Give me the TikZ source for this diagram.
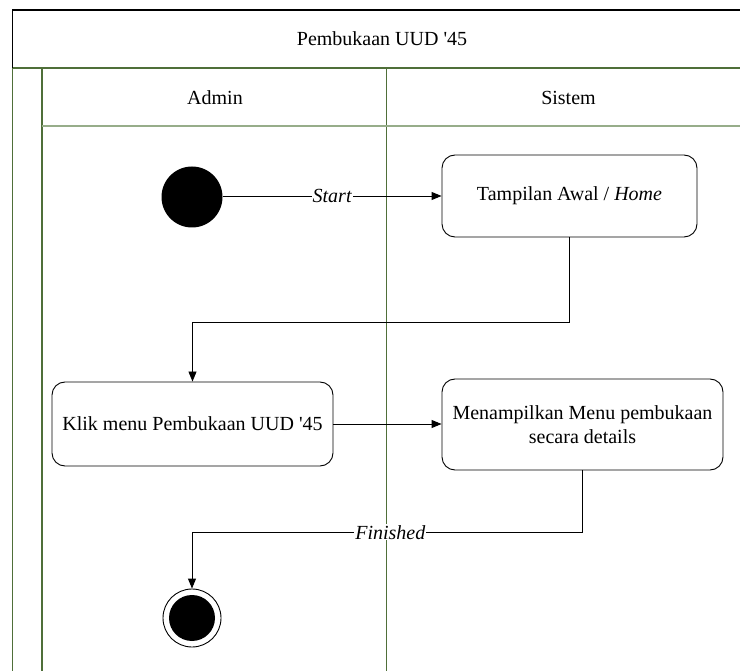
\documentclass[tikz,border=0pt]{standalone}
\usepackage{fontspec}
\setmainfont{Liberation Serif}[Ligatures=TeXOff]
\usetikzlibrary{arrows.meta}
\definecolor{laneDark}{HTML}{4F6F39}
\definecolor{laneLight}{HTML}{97AD8A}
\begin{document}
\begin{tikzpicture}[x=1pt,y=-1pt,
  font=\fontsize{20}{24}\selectfont,
  lanerule/.style={draw=laneDark, line width=1.4pt},
  action/.style={draw, rounded corners=13pt, line width=0.9pt, align=center, inner sep=0pt},
  flow/.style={draw, line width=0.9pt, -{Triangle[length=10pt,width=8pt]}},
  guard/.style={fill=white, inner sep=1pt, font=\fontsize{20}{24}\selectfont\itshape},
  initial/.style={circle, fill=black, minimum size=61pt, inner sep=0pt},
  final/.style={circle, draw, line width=0.9pt, minimum size=58pt, inner sep=0pt}]
  \useasboundingbox (0,0) rectangle (740,671);

  % swimlane frame
  \draw[lanerule] (12.5,68) -- (740,68);
  \draw[lanerule] (12.5,68) -- (12.5,671);
  \draw[lanerule] (42,68) -- (42,671);
  \draw[lanerule] (386.5,68) -- (386.5,671);
  \draw[draw=laneLight, line width=1.5pt] (42,126) -- (740,126);
  \draw[line width=1.5pt] (12.5,68) -- (12.5,10) -- (740,10);

  % headers
  \node (title) at (382,39) {Pembukaan UUD '45};
  \node (adminlane) at (215,97.5) {Admin};
  \node (sistemlane) at (568.5,97.5) {Sistem};

  % activities
  \node[initial] (start) at (192,197) {};
  \node[action, minimum width=255pt, minimum height=82pt] (home) at (569.5,196)
    {Tampilan Awal / \textit{Home}};
  \node[action, minimum width=281pt, minimum height=84pt] (klik) at (192.5,424)
    {Klik menu Pembukaan UUD '45};
  \node[action, minimum width=281pt, minimum height=91pt] (menu) at (582.5,424.5)
    {Menampilkan Menu pembukaan\\secara details};
  \node[final] (end) at (192,618) {};
  \node[circle, fill=black, minimum size=46pt, inner sep=0pt] (endcore) at (end) {};

  % control flow
  \draw[flow] (start.east |- home.west) -- node[guard] {Start} (home.west);
  \draw[flow] (home.south) -- ++(0,85) -| (klik.north);
  \draw[flow] (klik.east) -- (klik.east -| menu.west);
  \draw[flow] (menu.south) -- ++(0,62) -| node[guard, pos=0.246] {Finished} (end.north);
\end{tikzpicture}
\end{document}
